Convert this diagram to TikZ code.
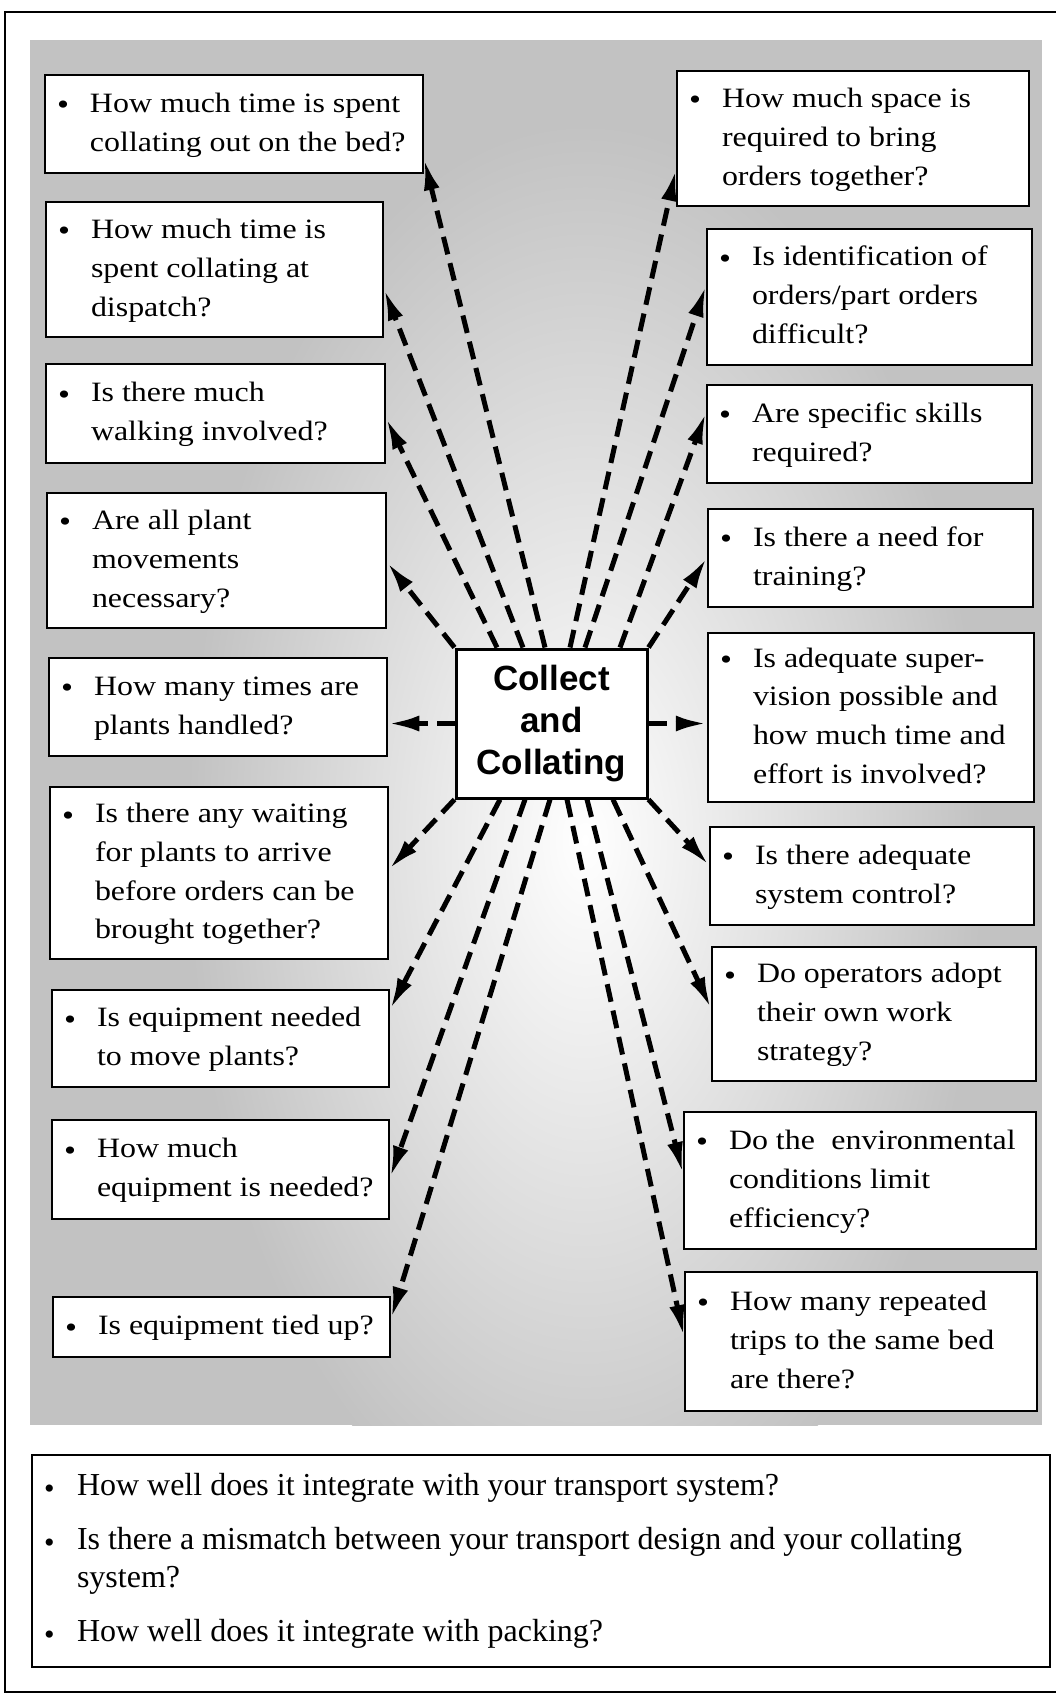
\documentclass[tikz,border=0pt]{standalone}
\usepackage{fontspec}
\setmainfont{Liberation Serif}
\newfontfamily\qfont{Liberation Serif}[FakeStretch=1.14]
\newfontfamily\hubfont{Liberation Sans}
\usetikzlibrary{arrows.meta,calc}

% bullet followed by a hanging block of lines, padded to the box width
\newcommand{\qbul}{\makebox[45pt][l]{\hspace{12pt}\raisebox{-2.5pt}{\fontsize{30}{30}\selectfont •}}}
\newcommand{\qtext}[2]{\makebox[#1pt][l]{\qbul\begin{tabular}[t]{@{}l@{}}#2\end{tabular}}}

\tikzset{
  qbox/.style={draw, line width=2.5pt, fill=white, inner sep=0pt,
    font=\qfont\fontsize{28}{38.8}\selectfont},
  hub/.style={draw, line width=3pt, fill=white, inner sep=0pt,
    minimum width=191pt, minimum height=149pt, align=center,
    font=\hubfont\bfseries\fontsize{35}{41.7}\selectfont},
  conn/.style={line width=5pt, dash pattern=on 18pt off 9pt,
    -{Latex[length=31pt,width=16pt]}}
}

\begin{document}
\begin{tikzpicture}[x=1pt,y=-1pt]
\useasboundingbox (0,0) rectangle (1056,1693);

% outer frame
\draw[line width=2.2pt] (5,12) rectangle (1075,1692);

% shaded backdrop behind the question boxes
\fill[black!24] (30,40) rectangle (1042,1425);
\begin{scope}
  \clip (30,40) rectangle (1042,1425);
  \shade[inner color=white, outer color=black!24] (585,840) ellipse [x radius=400, y radius=720];
\end{scope}

% central topic
\node[hub] (C) at (551.5,723.5) {Collect\\and\\Collating};

% left column
\node[qbox, minimum width=378pt, minimum height=98pt] (L1) at (234,124)
  {\qtext{378}{How much time is spent\\collating out on the bed?}};
\node[qbox, minimum width=337pt, minimum height=135pt] (L2) at (214.5,269.5)
  {\qtext{337}{How much time is\\spent collating at\\dispatch?}};
\node[qbox, minimum width=339pt, minimum height=99pt] (L3) at (215.5,413.5)
  {\qtext{339}{Is there much\\walking involved?}};
\node[qbox, minimum width=339pt, minimum height=135pt] (L4) at (216.5,560.5)
  {\qtext{339}{Are all plant\\movements\\necessary?}};
\node[qbox, minimum width=338pt, minimum height=98pt] (L5) at (218,707)
  {\qtext{338}{How many times are\\plants handled?}};
\node[qbox, minimum width=338pt, minimum height=172pt] (L6) at (219,873)
  {\qtext{338}{Is there any waiting\\for plants to arrive\\before orders can be\\brought together?}};
\node[qbox, minimum width=337pt, minimum height=97pt] (L7) at (220.5,1038.5)
  {\qtext{337}{Is equipment needed\\to move plants?}};
\node[qbox, minimum width=337pt, minimum height=99pt] (L8) at (220.5,1169.5)
  {\qtext{337}{How much\\equipment is needed?}};
\node[qbox, minimum width=337pt, minimum height=60pt] (L9) at (221.5,1327)
  {\qtext{337}{Is equipment tied up?}};

% right column
\node[qbox, minimum width=352pt, minimum height=135pt] (R1) at (853,138.5)
  {\qtext{352}{How much space is\\required to bring\\orders together?}};
\node[qbox, minimum width=325pt, minimum height=136pt] (R2) at (869.5,297)
  {\qtext{325}{Is identification of\\orders/part orders\\difficult?}};
\node[qbox, minimum width=325pt, minimum height=98pt] (R3) at (869.5,434)
  {\qtext{325}{Are specific skills\\required?}};
\node[qbox, minimum width=325pt, minimum height=98pt] (R4) at (870.5,558)
  {\qtext{325}{Is there a need for\\training?}};
\node[qbox, minimum width=326pt, minimum height=169pt] (R5) at (871,717.5)
  {\qtext{326}{Is adequate super-\\vision possible and\\how much time and\\effort is involved?}};
\node[qbox, minimum width=324pt, minimum height=98pt] (R6) at (872,876)
  {\qtext{324}{Is there adequate\\system control?}};
\node[qbox, minimum width=324pt, minimum height=134pt] (R7) at (874,1014)
  {\qtext{324}{Do operators adopt\\their own work\\strategy?}};
\node[qbox, minimum width=352pt, minimum height=137pt] (R8) at (860,1180.5)
  {\qtext{352}{Do the\hspace{0.3em} environmental\\conditions limit\\efficiency?}};
\node[qbox, minimum width=352pt, minimum height=139pt] (R9) at (861,1341.5)
  {\qtext{352}{How many repeated\\trips to the same bed\\are there?}};

% general questions
\node[qbox, font=\fontsize{32}{38}\selectfont, minimum width=1018pt, minimum height=212pt] (Q) at (541,1561)
  {\makebox[1018pt][l]{\begin{tabular}[t]{@{}l@{}l@{}}
    \qbul & How well does it integrate with your transport system?\\[16pt]
    \qbul & Is there a mismatch between your transport design and your collating\\
          & system?\\[16pt]
    \qbul & How well does it integrate with packing?
  \end{tabular}}};

% connectors from the central topic
\draw[conn] ($(C.north)+(-6.5,0)$) -- ($(L1.south east)+(0,-15)$);
\draw[conn] ($(C.north)+(-28.5,0)$) -- ($(L2.east)+(0,20)$);
\draw[conn] ($(C.north)+(-54.5,0)$) -- ($(L3.east)+(0,5)$);
\draw[conn] (C.north west) -- ($(L4.east)+(0,2)$);
\draw[conn] (C.west) -- (C.west -| L5.east);
\draw[conn] (C.south west) -- ($(L6.east)+(0,-4)$);
\draw[conn] ($(C.south)+(-51.5,0)$) -- ($(L7.east)+(0,-29.5)$);
\draw[conn] ($(C.south)+(-26.5,0)$) -- ($(L8.east)+(0,7.5)$);
\draw[conn] ($(C.south)+(-1.5,0)$) -- ($(L9.east)+(0,-9)$);

\draw[conn] ($(C.north)+(18.5,0)$) -- ($(R1.west)+(0,31.5)$);
\draw[conn] ($(C.north)+(33.5,0)$) -- ($(R2.west)+(0,-11)$);
\draw[conn] ($(C.north)+(68.5,0)$) -- ($(R3.west)+(0,-21)$);
\draw[conn] (C.north east) -- (R4.west);
\draw[conn] (C.east) -- (C.east -| R5.west);
\draw[conn] (C.south east) -- ($(R6.west)+(0,-11)$);
\draw[conn] ($(C.south)+(61.5,0)$) -- ($(R7.west)+(0,-6)$);
\draw[conn] ($(C.south)+(35.5,0)$) -- ($(R8.west)+(0,-7.5)$);
\draw[conn] ($(C.south)+(15.5,0)$) -- ($(R9.west)+(0,-5.5)$);
\end{tikzpicture}
\end{document}
